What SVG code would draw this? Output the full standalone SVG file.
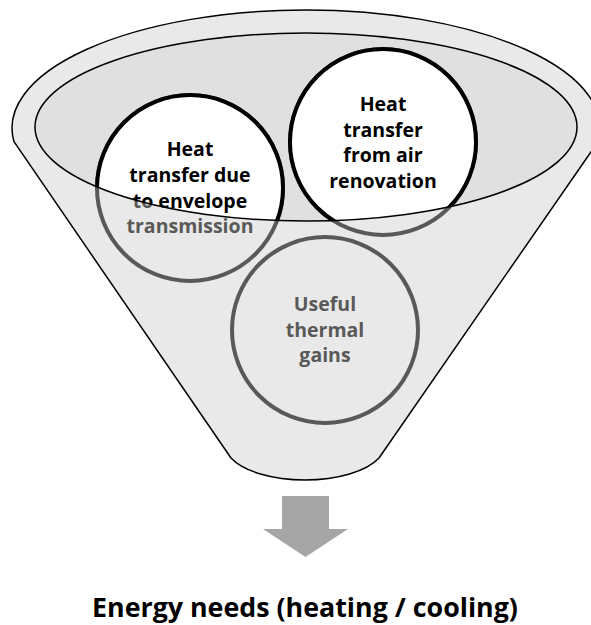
<svg xmlns="http://www.w3.org/2000/svg" width="591" height="625" viewBox="0 0 591 625">
  <style>
    .funnel{fill:#e9e9e9;stroke:#000;stroke-width:1.5;stroke-linejoin:round}
    .opening{fill:#e0e0e0}
    .rim{fill:none;stroke:#000;stroke-width:1.5}
    .c-out{fill:none;stroke:#595959;stroke-width:4}
    .c-in{fill:#fff;stroke:#000;stroke-width:4}
    .t{font-family:"Open Sans","DejaVu Sans",sans-serif;font-weight:700;font-size:19.5px;text-anchor:middle}
    .t-out{fill:#595959}
    .t-in{fill:#000}
    .arrow{fill:#a6a6a6}
    .result{font-family:"Open Sans","DejaVu Sans",sans-serif;font-weight:700;font-size:26.8px;text-anchor:middle;fill:#000}
  </style>
  <defs>
    <clipPath id="inner">
      <ellipse cx="306" cy="127" rx="271" ry="94"/>
    </clipPath>
  </defs>

  <g id="funnel">
    <path class="funnel" d="M14,141.7 A294,118 0 1 1 598,141.7 L379,458 A80,35.5 0 0 1 231,458 Z"/>
    <ellipse class="opening" cx="306" cy="127" rx="271" ry="94"/>
  </g>

  <g id="node-envelope">
    <circle class="c-out" cx="190" cy="188" r="93"/>
    <text class="t t-out" x="190"><tspan x="190" y="156">Heat</tspan><tspan x="190" y="182">transfer due</tspan><tspan x="190" y="207.5">to envelope</tspan><tspan x="190" y="233.3">transmission</tspan></text>
    <g clip-path="url(#inner)">
      <circle class="c-in" cx="190" cy="188" r="93"/>
      <text class="t t-in" x="190"><tspan x="190" y="156">Heat</tspan><tspan x="190" y="182">transfer due</tspan><tspan x="190" y="207.5">to envelope</tspan><tspan x="190" y="233.3">transmission</tspan></text>
    </g>
  </g>

  <g id="node-air">
    <circle class="c-out" cx="383" cy="142" r="93"/>
    <text class="t t-out" x="383"><tspan x="383" y="110.7">Heat</tspan><tspan x="383" y="136.5">transfer</tspan><tspan x="383" y="162.3">from air</tspan><tspan x="383" y="188.1">renovation</tspan></text>
    <g clip-path="url(#inner)">
      <circle class="c-in" cx="383" cy="142" r="93"/>
      <text class="t t-in" x="383"><tspan x="383" y="110.7">Heat</tspan><tspan x="383" y="136.5">transfer</tspan><tspan x="383" y="162.3">from air</tspan><tspan x="383" y="188.1">renovation</tspan></text>
    </g>
  </g>

  <g id="node-gains">
    <circle class="c-out" cx="325" cy="330" r="93"/>
    <text class="t t-out" x="325"><tspan x="325" y="310.7">Useful</tspan><tspan x="325" y="336.5">thermal</tspan><tspan x="325" y="362.3">gains</tspan></text>
  </g>

  <g id="funnel-rim">
    <ellipse class="rim" cx="306" cy="127" rx="271" ry="94"/>
  </g>

  <g id="connectors">
    <polygon class="arrow" points="282,496 329,496 329,529 348,529 305.5,557 263,529 282,529"/>
  </g>

  <g id="node-result">
    <text class="result" x="305" y="617">Energy needs (heating / cooling)</text>
  </g>
</svg>
